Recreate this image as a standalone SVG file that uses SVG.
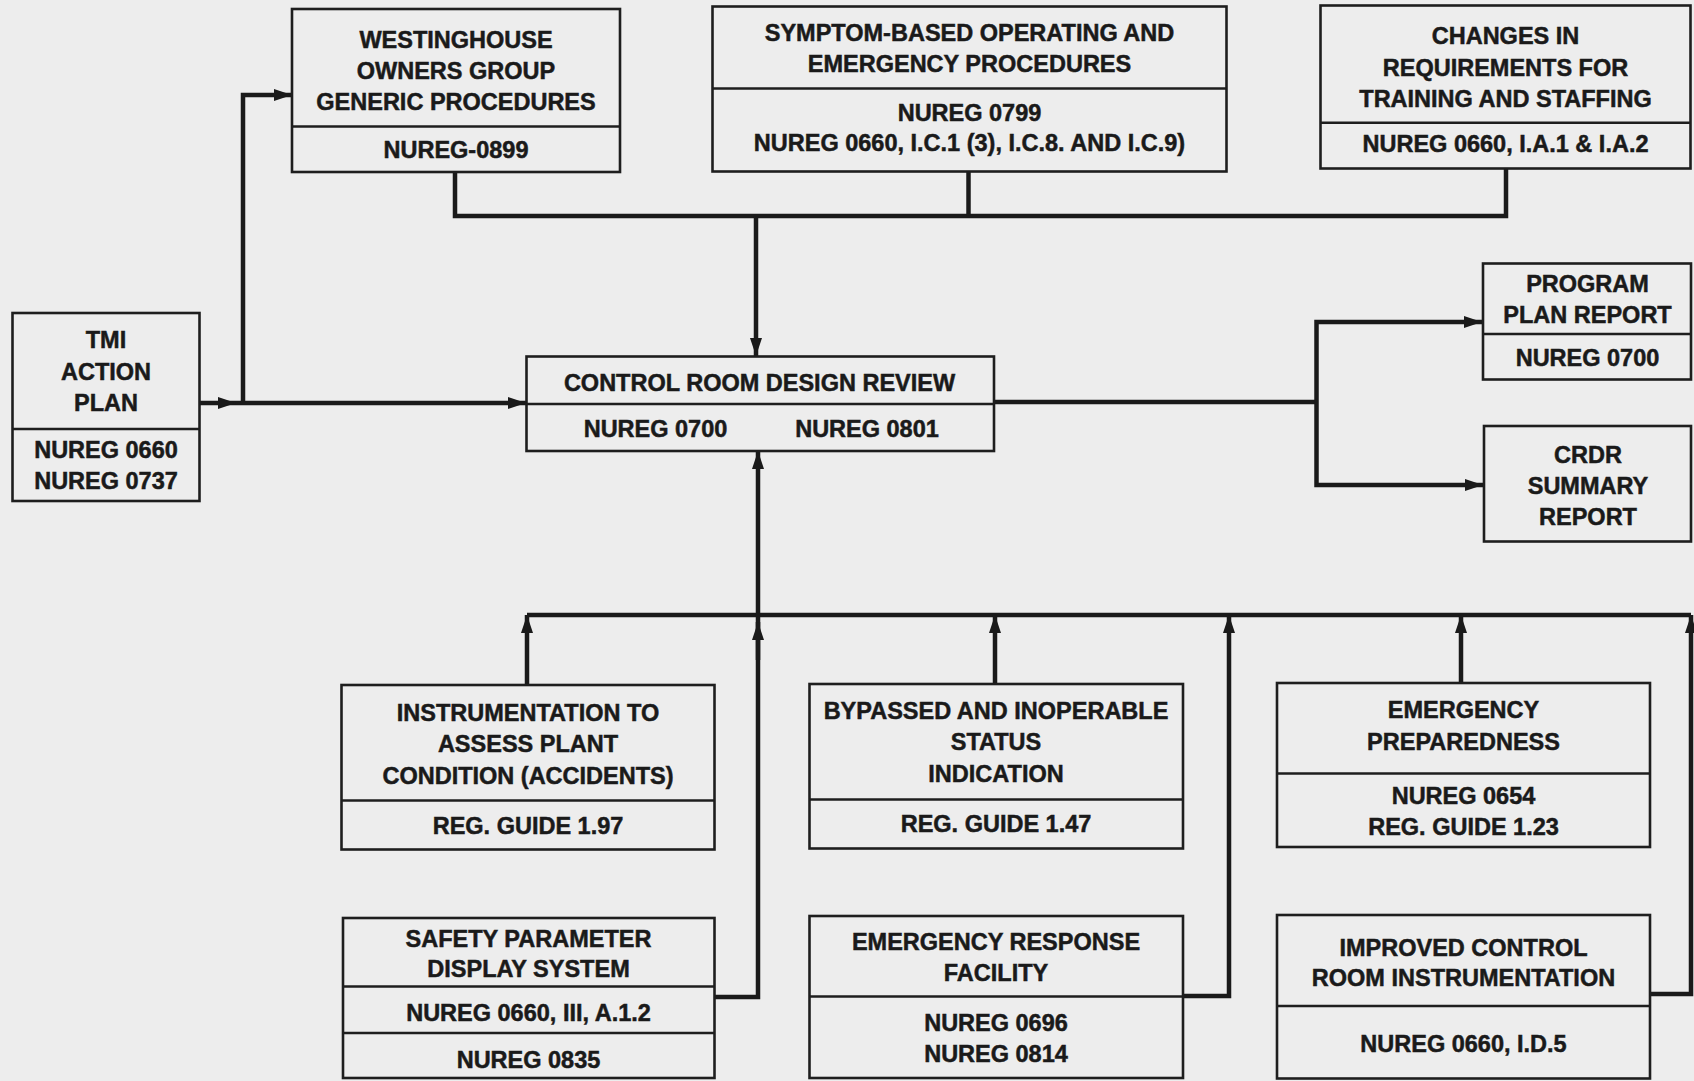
<svg xmlns="http://www.w3.org/2000/svg" width="1694" height="1081" viewBox="0 0 1694 1081">
  <style>
    .box { fill: none; stroke: #1e1e1e; stroke-width: 2.6; }
    .div { stroke: #1e1e1e; stroke-width: 2.4; }
    .wire { fill: none; stroke: #1a1a1a; stroke-width: 4.5; stroke-linejoin: miter; }
    text { font-family: "Liberation Sans", Arial, sans-serif; font-weight: bold; font-size: 23.5px; fill: #1a1a1a; stroke: #1a1a1a; stroke-width: 0.5; text-anchor: middle; }
  </style>
  <defs>
    <marker id="arrow" markerUnits="userSpaceOnUse" markerWidth="20" markerHeight="14" refX="18" refY="6" orient="auto">
      <path d="M0,0 L18,6 L0,12 z" fill="#1a1a1a"/>
    </marker>
  </defs>
  <rect width="1694" height="1081" fill="#ededed"/>

  <!-- connectors -->
  <g id="connectors">
    <!-- upper feeders into the review box -->
    <path class="wire" d="M455,172 V216 H1506 V168"/>
    <path class="wire" d="M968.5,172 V216"/>
    <path class="wire" d="M756,216 V356" marker-end="url(#arrow)"/>
    <!-- TMI action plan outputs -->
    <path class="wire" d="M200,403 H236" marker-end="url(#arrow)"/>
    <path class="wire" d="M236,403 H526" marker-end="url(#arrow)"/>
    <path class="wire" d="M243,403 V95 H292" marker-end="url(#arrow)"/>
    <!-- review outputs -->
    <path class="wire" d="M994,402 H1316.5"/>
    <path class="wire" d="M1316.5,402 V322 H1482" marker-end="url(#arrow)"/>
    <path class="wire" d="M1316.5,402 V485 H1483" marker-end="url(#arrow)"/>
    <!-- lower collector bus -->
    <path class="wire" d="M527,615 H1691"/>
    <path class="wire" d="M527,685 V615" marker-end="url(#arrow)"/>
    <path class="wire" d="M995,684 V615" marker-end="url(#arrow)"/>
    <path class="wire" d="M1461,683 V615" marker-end="url(#arrow)"/>
    <path class="wire" d="M1183,996 H1229 V615" marker-end="url(#arrow)"/>
    <path class="wire" d="M1650,994 H1691 V615" marker-end="url(#arrow)"/>
    <!-- SPDS trunk up into the review box -->
    <path class="wire" d="M714,997 H758 V451" marker-end="url(#arrow)"/>
    <path class="wire" d="M758,660 V622" marker-end="url(#arrow)"/>
  </g>

  <g id="westinghouse">
    <rect class="box" x="292" y="9" width="328" height="163"/>
    <line class="div" x1="292" y1="126.5" x2="620" y2="126.5"/>
    <text x="456" y="47.5">WESTINGHOUSE</text>
    <text x="456" y="79">OWNERS GROUP</text>
    <text x="456" y="109.5">GENERIC PROCEDURES</text>
    <text x="456" y="158">NUREG-0899</text>
  </g>

  <g id="symptom-procedures">
    <rect class="box" x="712.5" y="6.5" width="514" height="165"/>
    <line class="div" x1="712.5" y1="88.5" x2="1226.5" y2="88.5"/>
    <text x="969.5" y="40.5">SYMPTOM-BASED OPERATING AND</text>
    <text x="969.5" y="71.5">EMERGENCY PROCEDURES</text>
    <text x="969.5" y="120.5">NUREG 0799</text>
    <text x="969.5" y="151">NUREG 0660, I.C.1 (3), I.C.8. AND I.C.9)</text>
  </g>

  <g id="training-staffing">
    <rect class="box" x="1320.5" y="5.5" width="370" height="163"/>
    <line class="div" x1="1320.5" y1="122.7" x2="1690.5" y2="122.7"/>
    <text x="1505.5" y="44">CHANGES IN</text>
    <text x="1505.5" y="75.5">REQUIREMENTS FOR</text>
    <text x="1505.5" y="106.5">TRAINING AND STAFFING</text>
    <text x="1505.5" y="152">NUREG 0660, I.A.1 &amp; I.A.2</text>
  </g>

  <g id="tmi-action-plan">
    <rect class="box" x="12.5" y="313" width="187" height="188"/>
    <line class="div" x1="12.5" y1="429" x2="199.5" y2="429"/>
    <text x="106" y="348">TMI</text>
    <text x="106" y="379.5">ACTION</text>
    <text x="106" y="410.5">PLAN</text>
    <text x="106" y="458">NUREG 0660</text>
    <text x="106" y="488.5">NUREG 0737</text>
  </g>

  <g id="control-room-design-review">
    <rect class="box" x="526.5" y="356.5" width="467.5" height="94.5"/>
    <line class="div" x1="526.5" y1="404" x2="994" y2="404"/>
    <text x="759.5" y="390.5">CONTROL ROOM DESIGN REVIEW</text>
    <text x="655.5" y="437">NUREG 0700</text>
    <text x="867" y="437">NUREG 0801</text>
  </g>

  <g id="program-plan-report">
    <rect class="box" x="1483" y="263.5" width="208" height="116"/>
    <line class="div" x1="1483" y1="334" x2="1691" y2="334"/>
    <text x="1587.5" y="292">PROGRAM</text>
    <text x="1587.5" y="322.5">PLAN REPORT</text>
    <text x="1587.5" y="365.5">NUREG 0700</text>
  </g>

  <g id="crdr-summary-report">
    <rect class="box" x="1484" y="426" width="207" height="115.5"/>
    <text x="1588" y="462.5">CRDR</text>
    <text x="1588" y="493.5">SUMMARY</text>
    <text x="1588" y="524.5">REPORT</text>
  </g>

  <g id="accident-instrumentation">
    <rect class="box" x="341.5" y="685" width="373" height="164.5"/>
    <line class="div" x1="341.5" y1="800.5" x2="714.5" y2="800.5"/>
    <text x="528" y="720.5">INSTRUMENTATION TO</text>
    <text x="528" y="752">ASSESS PLANT</text>
    <text x="528" y="784">CONDITION (ACCIDENTS)</text>
    <text x="528" y="834">REG. GUIDE 1.97</text>
  </g>

  <g id="bypassed-inoperable-status">
    <rect class="box" x="809.5" y="684" width="373.5" height="164.5"/>
    <line class="div" x1="809.5" y1="799.5" x2="1183" y2="799.5"/>
    <text x="996" y="719">BYPASSED AND INOPERABLE</text>
    <text x="996" y="750">STATUS</text>
    <text x="996" y="782">INDICATION</text>
    <text x="996" y="831.5">REG. GUIDE 1.47</text>
  </g>

  <g id="emergency-preparedness">
    <rect class="box" x="1277" y="683" width="373" height="164"/>
    <line class="div" x1="1277" y1="773.5" x2="1650" y2="773.5"/>
    <text x="1463.5" y="718">EMERGENCY</text>
    <text x="1463.5" y="749.5">PREPAREDNESS</text>
    <text x="1463.5" y="803.5">NUREG 0654</text>
    <text x="1463.5" y="835">REG. GUIDE 1.23</text>
  </g>

  <g id="safety-parameter-display">
    <rect class="box" x="343" y="918" width="371.5" height="160"/>
    <line class="div" x1="343" y1="986.5" x2="714.5" y2="986.5"/>
    <line class="div" x1="343" y1="1033" x2="714.5" y2="1033"/>
    <text x="528.5" y="947">SAFETY PARAMETER</text>
    <text x="528.5" y="976.5">DISPLAY SYSTEM</text>
    <text x="528.5" y="1020.5">NUREG 0660, III, A.1.2</text>
    <text x="528.5" y="1067.5">NUREG 0835</text>
  </g>

  <g id="emergency-response-facility">
    <rect class="box" x="809.5" y="916" width="373.5" height="162"/>
    <line class="div" x1="809.5" y1="996.5" x2="1183" y2="996.5"/>
    <text x="996" y="950">EMERGENCY RESPONSE</text>
    <text x="996" y="980.5">FACILITY</text>
    <text x="996" y="1030.5">NUREG 0696</text>
    <text x="996" y="1061.5">NUREG 0814</text>
  </g>

  <g id="improved-instrumentation">
    <rect class="box" x="1277" y="915" width="373" height="163.5"/>
    <line class="div" x1="1277" y1="1006" x2="1650" y2="1006"/>
    <text x="1463.5" y="956">IMPROVED CONTROL</text>
    <text x="1463.5" y="986">ROOM INSTRUMENTATION</text>
    <text x="1463.5" y="1052">NUREG 0660, I.D.5</text>
  </g>
</svg>
